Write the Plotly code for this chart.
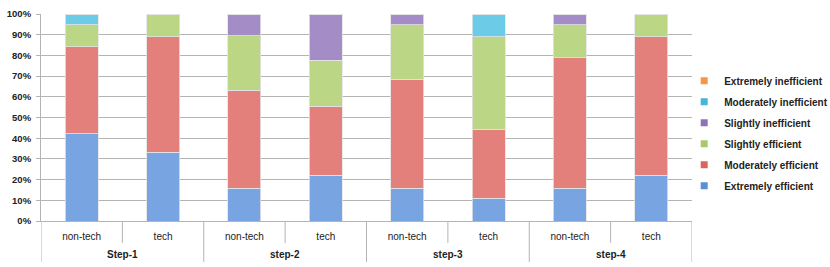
import plotly.graph_objects as go

steps = ["Step-1", "Step-1", "step-2", "step-2", "step-3", "step-3", "step-4", "step-4"]
groups = ["non-tech", "tech", "non-tech", "tech", "non-tech", "tech", "non-tech", "tech"]
step_labels = ["Step-1", "step-2", "step-3", "step-4"]

extremely_efficient = [42.1, 33.3, 15.8, 22.2, 15.8, 11.1, 15.8, 22.2]
moderately_efficient = [42.1, 55.6, 47.4, 33.3, 52.6, 33.3, 63.1, 66.7]
slightly_efficient = [10.5, 11.1, 26.3, 22.2, 26.3, 44.5, 15.8, 11.1]
slightly_inefficient = [0, 0, 10.5, 22.3, 5.3, 0, 5.3, 0]
moderately_inefficient = [5.3, 0, 0, 0, 0, 11.1, 0, 0]
extremely_inefficient = [0, 0, 0, 0, 0, 0, 0, 0]

series = [
    ("Extremely efficient", extremely_efficient, "#78a5e2", "#5b8fd2"),
    ("Moderately efficient", moderately_efficient, "#e4807b", "#d9635e"),
    ("Slightly efficient", slightly_efficient, "#bbd785", "#a8c96a"),
    ("Slightly inefficient", slightly_inefficient, "#a48dc6", "#8e74b5"),
    ("Moderately inefficient", moderately_inefficient, "#6ccbe6", "#45b5d8"),
    ("Extremely inefficient", extremely_inefficient, "#f9a35e", "#f79646"),
]

cats = [f"{s}|{g}" for s, g in zip(steps, groups)]

font_family = "Liberation Sans, Arial, sans-serif"
grid = "#b4b4b4"

fig = go.Figure()
for name, vals, color, lcolor in series:
    fig.add_trace(go.Bar(
        x=cats, y=vals, name=name, showlegend=False,
        marker=dict(color=color, line=dict(color="#e4e4e4", width=0.8)),
    ))
# legend entries with small square swatches (top entry = last series)
for i, (name, vals, color, lcolor) in enumerate(reversed(series)):
    fig.add_trace(go.Scatter(
        x=[None], y=[None], mode="markers", name=name,
        legendgroup=f"g{i}",
        marker=dict(symbol="square", size=7, color=lcolor),
    ))

shapes = []
for i in range(len(cats) + 1):
    pos = i - 0.5
    long_div = (i % 2 == 0)
    shapes.append(dict(
        type="line", xref="x", yref="paper",
        x0=pos, x1=pos, y0=0, y1=-0.198 if long_div else -0.106,
        line=dict(color=grid, width=1),
    ))

annotations = []
for j, lab in enumerate(step_labels):
    annotations.append(dict(
        x=2 * j + 0.5, y=-0.164, xref="x", yref="paper",
        text=lab, showarrow=False, xanchor="center", yanchor="middle",
        font=dict(size=10, weight="bold", color="#222222", family=font_family),
    ))

fig.update_layout(
    barmode="stack",
    bargap=0.595,
    width=830, height=267,
    margin=dict(l=41, r=138, t=14, b=46, autoexpand=False),
    plot_bgcolor="white", paper_bgcolor="white",
    font=dict(family=font_family, size=10, color="#222222"),
    showlegend=True,
    shapes=shapes,
    annotations=annotations,
    legend=dict(
        traceorder="grouped",
        x=0.988, xanchor="left", y=0.424, yanchor="middle",
        font=dict(size=10, weight="bold", color="#222222"),
        tracegroupgap=2,
        itemwidth=30,
        bgcolor="rgba(0,0,0,0)",
    ),
    yaxis=dict(
        range=[0, 100], dtick=10, ticksuffix="%",
        showgrid=True, gridcolor=grid, gridwidth=1,
        showline=True, linecolor=grid, linewidth=1,
        ticks="outside", ticklen=4, tickcolor=grid,
        ticklabelstandoff=3,
        tickfont=dict(size=9.5, weight="bold", color="#222222"),
        zeroline=False, automargin=False,
    ),
    xaxis=dict(
        type="category",
        categoryorder="array", categoryarray=cats,
        tickvals=cats, ticktext=groups,
        range=[-0.5, len(cats) - 0.5],
        showline=True, linecolor=grid, linewidth=1,
        ticks="", ticklabelstandoff=6,
        tickfont=dict(size=10, color="#222222"),
        automargin=False,
    ),
)

fig.write_html(
    "out.html",
    config={"displayModeBar": False},
    post_script="document.body.style.margin='0';document.body.style.overflow='hidden';",
)
